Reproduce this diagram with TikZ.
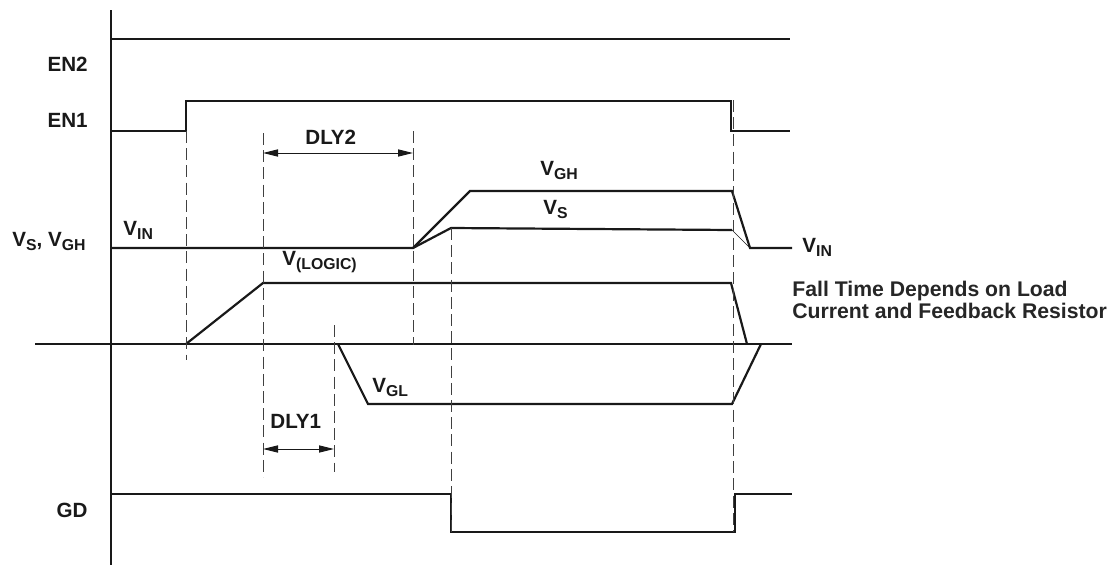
\documentclass[tikz,border=0pt]{standalone}
\usepackage{fontspec}
\setmainfont{Liberation Sans}
\usetikzlibrary{arrows.meta}
\newcommand{\sgsub}[1]{\raisebox{-0.4ex}{\fontsize{7.9}{8}\selectfont #1}}
\tikzset{
  wave/.style  = {line width=1.1pt, line join=miter, draw=black!90},
  thinw/.style = {line width=0.35pt, draw=black!90},
  axis/.style  = {line width=1.1pt, draw=black!90},
  guide/.style = {line width=0.5pt, dash pattern=on 6pt off 2.6pt, draw=black!75},
  dimarr/.style= {{Triangle[length=7.5pt,width=3.6pt]}-{Triangle[length=7.5pt,width=3.6pt]},
                  line width=0.5pt, draw=black!90},
  lbl/.style   = {font=\fontsize{10.3}{12}\selectfont\bfseries, inner sep=0pt, text=black!90},
  note/.style  = {font=\fontsize{10.6}{10.8}\selectfont\bfseries, inner sep=0pt, text=black!85,
                  align=left}
}

\begin{document}
\begin{tikzpicture}[x=0.5pt, y=-0.5pt]
  \useasboundingbox (0,0) rectangle (1110,568);

  % axes
  \draw[axis] (111,10) -- (111,565);
  \draw[wave] (35,344) -- (792,344);

  % EN2, EN1
  \draw[wave] (111,39) -- (790,39);
  \draw[wave] (111,131) -- (186,131) -- (186,101) -- (731,101) -- (731,131) -- (790,131);

  % VS, VGH
  \draw[wave] (111,248) -- (413,248) -- (470,191) -- (732,191) -- (750,248) -- (792,248);
  \draw[wave] (413,248) -- (451,228) -- (732,230);
  \draw[thinw] (732,230) -- (750,248);

  % V(LOGIC) and VGL
  \draw[wave] (186,344) -- (263,283) -- (731,283) -- (747,344);
  \draw[wave] (338,344) -- (368,404) -- (732,404) -- (761,344);

  % GD
  \draw[wave] (111,494) -- (451,494) -- (451,532) -- (735,532) -- (735,494) -- (792,494);

  % timing guides
  \draw[guide] (186,131) -- (186,360);
  \draw[guide] (263,133) -- (263,477);
  \draw[guide] (334,325) -- (334,472);
  \draw[guide] (413,131) -- (413,345);
  \draw[guide] (451,228) -- (451,532);
  \draw[guide] (733,100) -- (733,532);

  % delays
  \draw[dimarr] (263,153) -- (413,153);
  \draw[dimarr] (263,449) -- (334,449);
  \node[lbl, anchor=base west] (dly2) at (305,144) {DLY2};
  \node[lbl, anchor=base west] (dly1) at (270,428) {DLY1};

  % signal names
  \node[lbl, anchor=base east] (en2) at (88,71) {EN2};
  \node[lbl, anchor=base east] (en1) at (88,127) {EN1};
  \node[lbl, anchor=base east] (gd)  at (88,517) {GD};
  \node[lbl, anchor=base west] (vsgh) at (12,246) {V\sgsub{S}, V\sgsub{GH}};

  % level labels
  \node[lbl, anchor=base west] (vinl)  at (123,235) {V\sgsub{IN}};
  \node[lbl, anchor=base west] (vgh)   at (540,175) {V\sgsub{GH}};
  \node[lbl, anchor=base west] (vs)    at (543,214) {V\sgsub{S}};
  \node[lbl, anchor=base west] (vlog)  at (282,265) {V\sgsub{(LOGIC)}};
  \node[lbl, anchor=base west] (vgl)   at (372,392) {V\sgsub{GL}};
  \node[lbl, anchor=base west] (vinr)  at (802,252) {V\sgsub{IN}};
  \node[note, anchor=base west] (fall) at (792,318)
    {Fall Time Depends on Load\\Current and Feedback Resistor};
\end{tikzpicture}
\end{document}
